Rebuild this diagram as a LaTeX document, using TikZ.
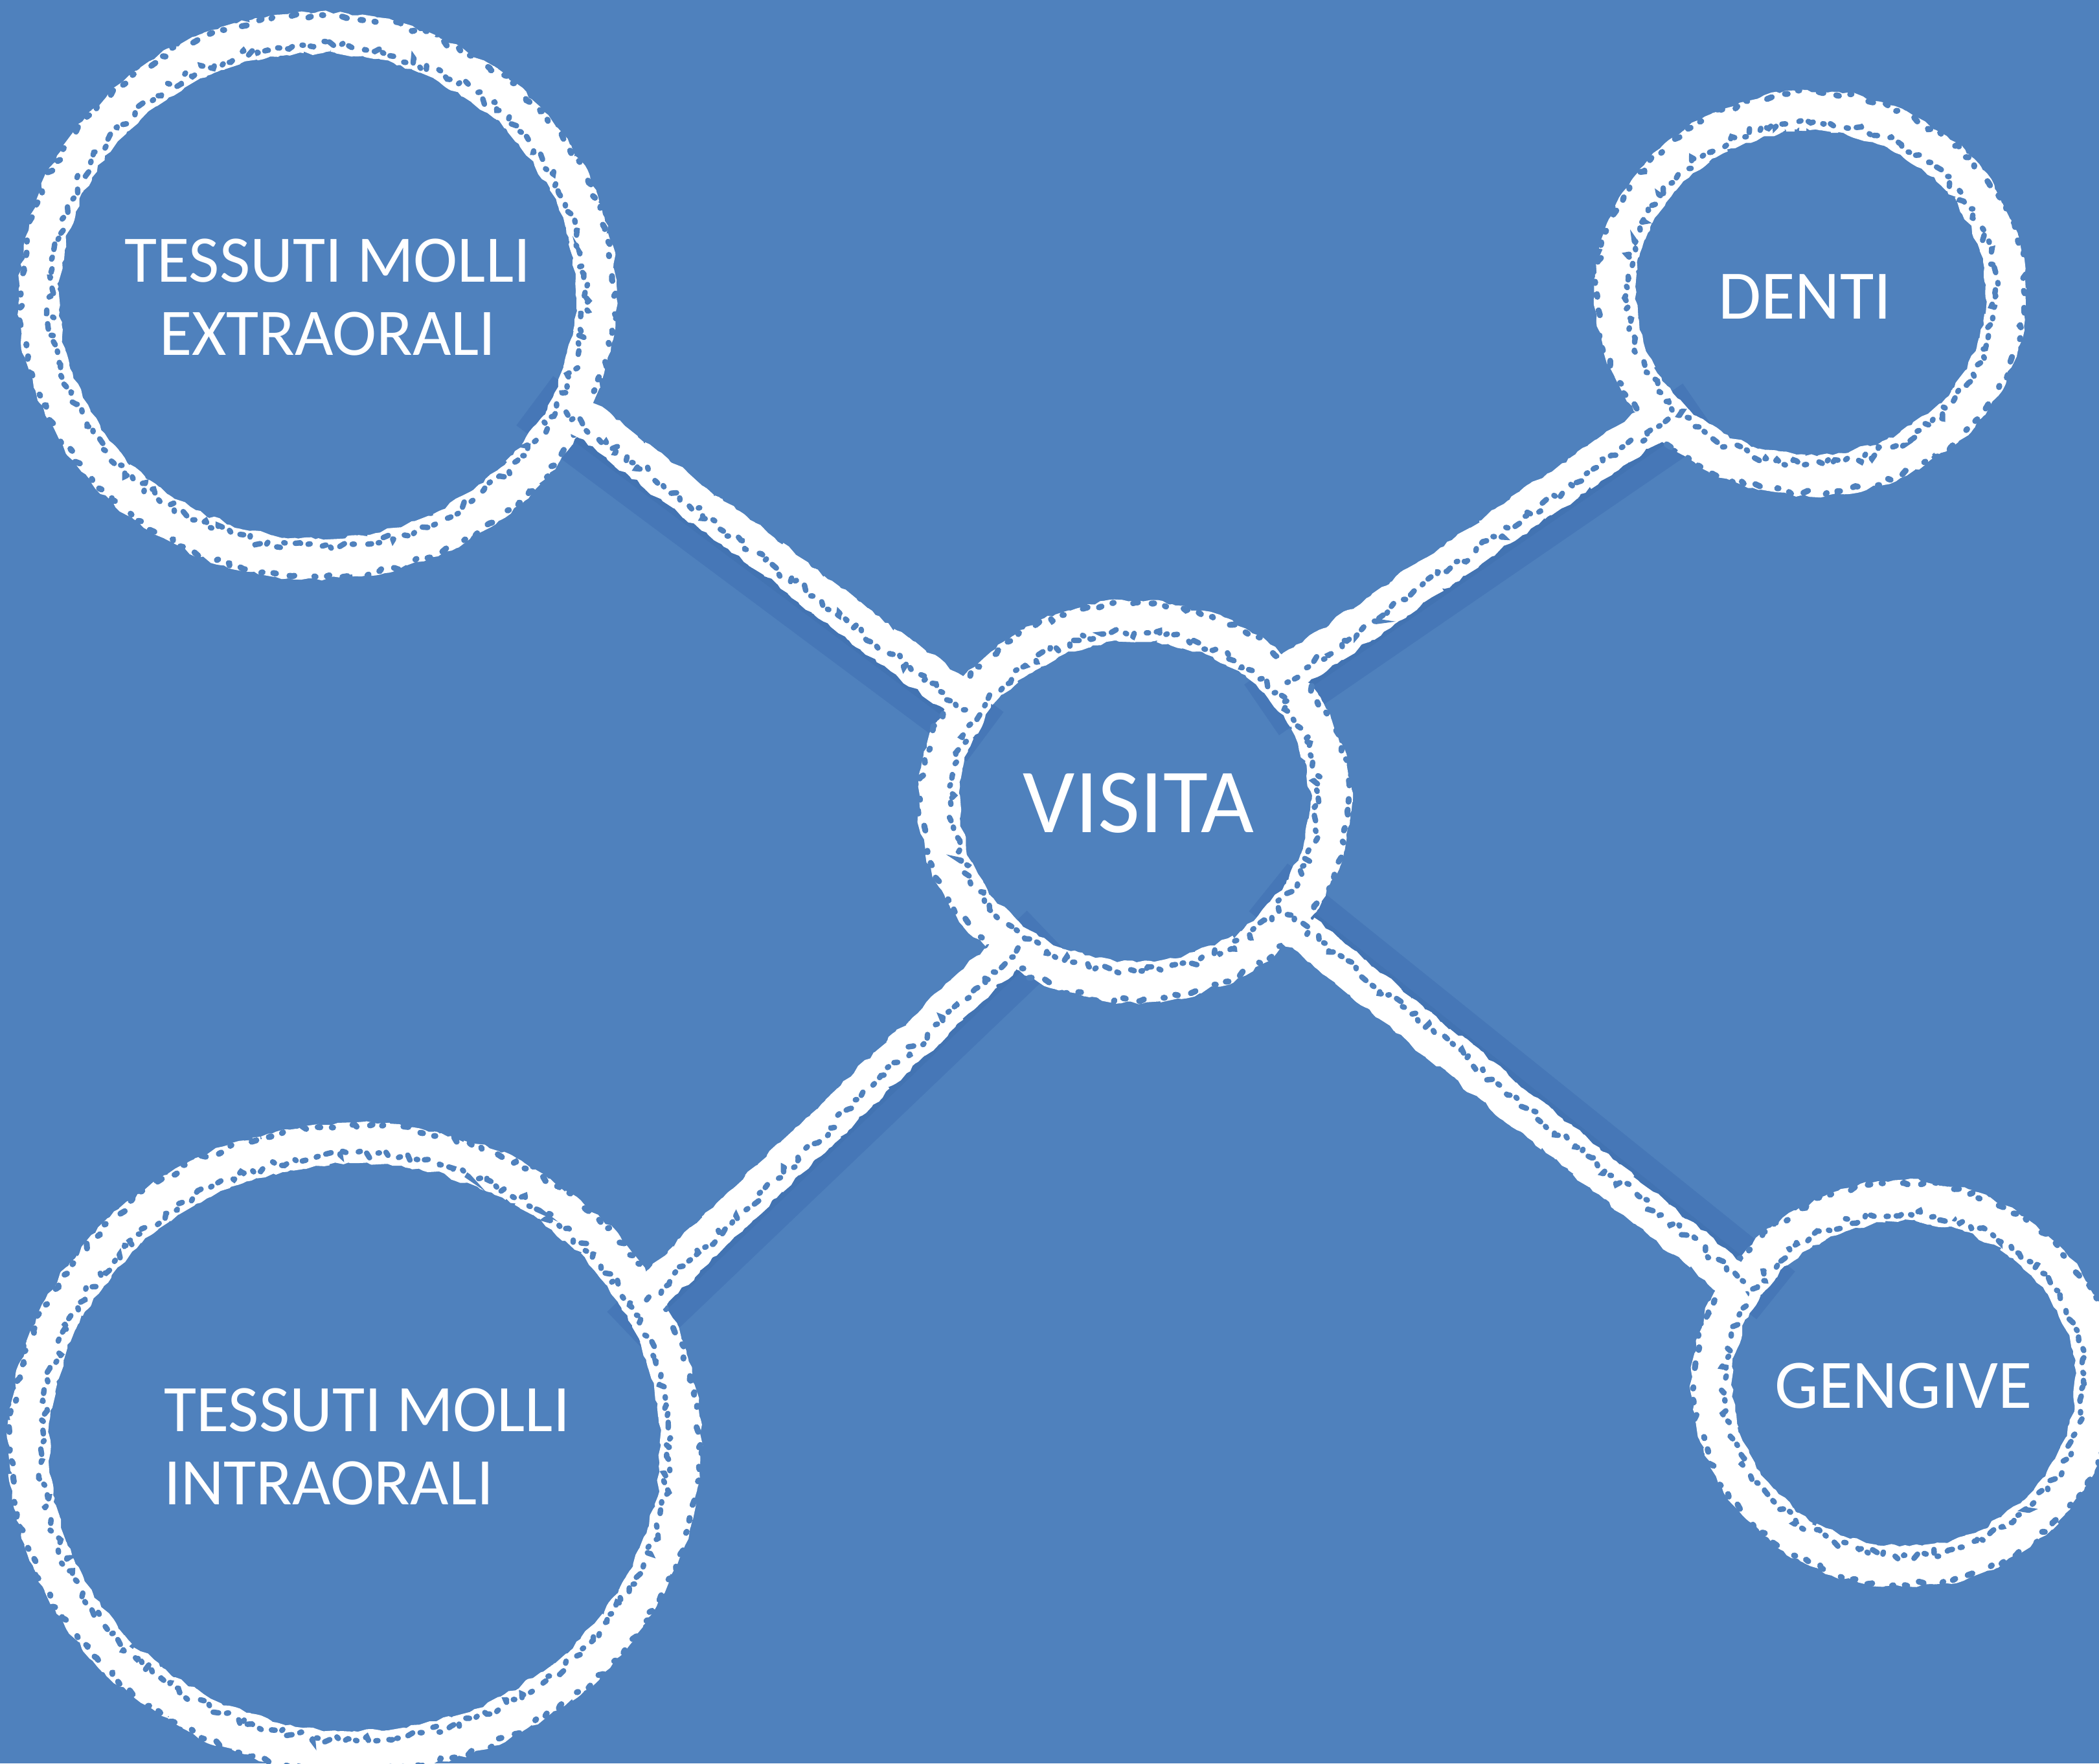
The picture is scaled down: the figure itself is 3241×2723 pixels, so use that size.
\documentclass[tikz,border=0pt]{standalone}
\usepackage{fontspec}
\setmainfont{Carlito}
\usetikzlibrary{shapes.geometric,decorations.pathmorphing}

\definecolor{bgblue}{HTML}{4F81BD}
\definecolor{bandblue}{HTML}{4677B7}
\definecolor{shadeblue}{HTML}{3D6DA9}

\pgfdeclarelayer{back}
\pgfdeclarelayer{bands}
\pgfsetlayers{back,bands,main}

\tikzset{
  ring/.style={ellipse, outer sep=0pt, inner sep=0pt},
  chalk/.style={draw=white, line join=bevel, decorate,
    decoration={random steps, segment length=2pt, amplitude=1pt}},
  specks/.style={draw=bgblue, line width=2.4pt, line cap=round,
    dash pattern=on 1.6pt off 3pt on 0.6pt off 4.5pt on 2.4pt off 3.5pt on 0.9pt off 6pt,
    decorate, decoration={random steps, segment length=2.5pt, amplitude=2pt}},
  bites/.style={draw=bgblue, line width=2.6pt, line cap=round,
    dash pattern=on 1.2pt off 6pt on 2.2pt off 9pt on 0.6pt off 5pt,
    decorate, decoration={random steps, segment length=3pt, amplitude=1.4pt}},
  lbl/.style={text=white, inner sep=0pt,
    font=\fontsize{29.2}{31.9}\selectfont},
  link/.style={chalk, line width=16.5pt},
  band/.style={draw=bandblue, line width=27pt,
    shorten <=-14pt, shorten >=-14pt},
  shade/.style={draw=shadeblue, line width=16pt, opacity=.35}
}

\begin{document}
\begin{tikzpicture}[x=0.01cm, y=-0.01cm]
  \pgfmathsetseed{12}
  \useasboundingbox (0,0) rectangle (3241,2723);
  \begin{pgfonlayer}{back}
    \fill[bgblue] (0,0) rectangle (3241,2723);
  \end{pgfonlayer}

  % nodes
  \node[ring, minimum width=8.6cm, minimum height=8.12cm] (ext) at (490,457) {};
  \node[ring, minimum width=6.04cm, minimum height=5.62cm] (den) at (2796,453) {};
  \node[ring, minimum width=6.04cm, minimum height=5.58cm] (vis) at (1752,1238) {};
  \node[ring, minimum width=10.06cm, minimum height=9.4cm] (int) at (548,2235) {};
  \node[ring, minimum width=5.92cm, minimum height=5.64cm] (gen) at (2940,2137) {};

  % captions
  \node[lbl, align=center] (extt) at (506,459) {TESSUTI MOLLI\\EXTRAORALI};
  \node[lbl, font=\fontsize{30.5}{32}\selectfont] (dent) at (2787,458) {DENTI};
  \node[lbl, font=\fontsize{40.2}{42}\selectfont] (vist) at (1758,1240) {VISITA};
  \node[lbl, align=left, anchor=west] (intt) at (253,2234) {TESSUTI MOLLI\\INTRAORALI};
  \node[lbl, font=\fontsize{30.5}{32}\selectfont] (gent) at (2939,2140) {GENGIVE};

  % shadow bands under the links
  \begin{pgfonlayer}{bands}
    \draw[band] ([shift={(-14,18)}]ext.-24) -- ([shift={(-14,18)}]vis.150);
    \draw[band] ([shift={(13,18)}]den.220) -- ([shift={(13,18)}]vis.40);
    \draw[band] ([shift={(16,16)}]vis.230) -- ([shift={(16,16)}]int.27);
    \draw[band] ([shift={(14,-17)}]vis.-38) -- ([shift={(14,-17)}]gen.149);
    \draw[shade] ([shift={(-5,7)}]ext.-24) -- ([shift={(-5,7)}]vis.150);
    \draw[shade] ([shift={(5,7)}]den.220) -- ([shift={(5,7)}]vis.40);
    \draw[shade] ([shift={(6,6)}]vis.230) -- ([shift={(6,6)}]int.27);
    \draw[shade] ([shift={(5,-7)}]vis.-38) -- ([shift={(5,-7)}]gen.149);
  \end{pgfonlayer}

  % chalk rings, each stroke overlapping its own start
  \draw[chalk, line width=18pt] ([shift={(50:4.3cm and 4.06cm)}]ext.center)
    arc[start angle=50, delta angle=366, x radius=4.3cm, y radius=4.06cm];
  \draw[chalk, line width=18pt] ([shift={(40:3.02cm and 2.81cm)}]den.center)
    arc[start angle=40, delta angle=366, x radius=3.02cm, y radius=2.81cm];
  \draw[chalk, line width=18pt] ([shift={(120:3.02cm and 2.79cm)}]vis.center)
    arc[start angle=120, delta angle=366, x radius=3.02cm, y radius=2.79cm];
  \draw[chalk, line width=18pt] ([shift={(60:5.03cm and 4.7cm)}]int.center)
    arc[start angle=60, delta angle=366, x radius=5.03cm, y radius=4.7cm];
  \draw[chalk, line width=18pt] ([shift={(20:2.96cm and 2.82cm)}]gen.center)
    arc[start angle=20, delta angle=366, x radius=2.96cm, y radius=2.82cm];

  % chalk grain on the rings
  \draw[specks] (ext) ellipse [x radius=4.12cm, y radius=3.88cm];
  \draw[specks] (den) ellipse [x radius=2.84cm, y radius=2.63cm];
  \draw[specks] (vis) ellipse [x radius=2.84cm, y radius=2.61cm];
  \draw[specks] (int) ellipse [x radius=4.85cm, y radius=4.52cm];
  \draw[specks] (gen) ellipse [x radius=2.78cm, y radius=2.64cm];
  \draw[bites] (ext) ellipse [x radius=4.58cm, y radius=4.34cm];
  \draw[bites] (den) ellipse [x radius=3.3cm, y radius=3.09cm];
  \draw[bites] (vis) ellipse [x radius=3.3cm, y radius=3.07cm];
  \draw[bites] (int) ellipse [x radius=5.31cm, y radius=4.98cm];
  \draw[bites] (gen) ellipse [x radius=3.24cm, y radius=3.1cm];

  % chalk links
  \draw[link] (ext.-24) -- (vis.150);
  \draw[link] (den.220) -- (vis.40);
  \draw[link] (vis.230) -- (int.27);
  \draw[link] (vis.-38) -- (gen.149);
  \draw[specks] ([shift={(-5,6)}]ext.-24) -- ([shift={(-5,6)}]vis.150);
  \draw[specks] ([shift={(4,6)}]den.220) -- ([shift={(4,6)}]vis.40);
  \draw[specks] ([shift={(5,5)}]vis.230) -- ([shift={(5,5)}]int.27);
  \draw[specks] ([shift={(5,-6)}]vis.-38) -- ([shift={(5,-6)}]gen.149);
\end{tikzpicture}
\end{document}
